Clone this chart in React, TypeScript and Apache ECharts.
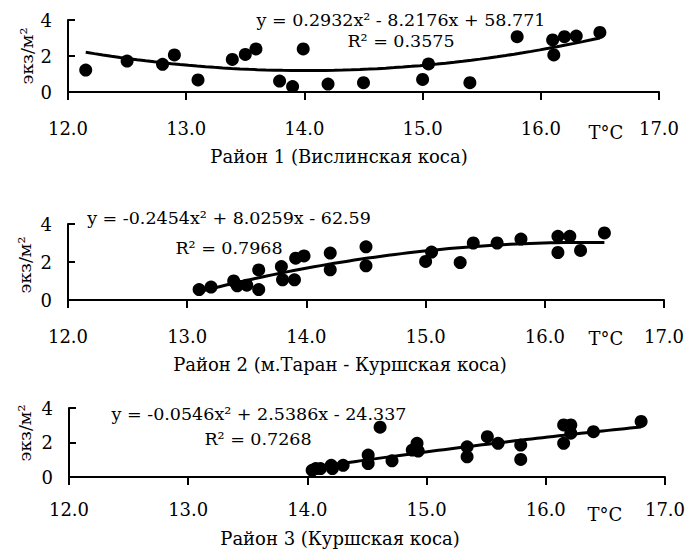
import React, { useEffect, useRef } from "react";
import * as echarts from "echarts";

// ---- Data ----
const xTicks = [12, 13, 14, 15, 16, 17];
const yTicks = [0, 2, 4];

// Район 1 (Вислинская коса)
const temp1 = [12.15, 12.5, 12.8, 12.9, 13.1, 13.39, 13.5, 13.59, 13.79, 13.9, 13.99, 14.2, 14.5, 15.0, 15.05, 15.4, 15.8, 16.1, 16.11, 16.2, 16.3, 16.5];
const dens1 = [1.22, 1.72, 1.54, 2.06, 0.67, 1.81, 2.09, 2.39, 0.61, 0.3, 2.39, 0.44, 0.52, 0.7, 1.56, 0.52, 3.07, 2.89, 2.06, 3.07, 3.11, 3.31];
const coef1 = [0.2932, -8.2176, 58.771];

// Район 2 (м.Таран - Куршская коса)
const temp2 = [13.1, 13.2, 13.39, 13.42, 13.5, 13.6, 13.6, 13.79, 13.8, 13.9, 13.91, 13.98, 14.2, 14.2, 14.5, 14.5, 15.0, 15.05, 15.29, 15.4, 15.6, 15.8, 16.11, 16.11, 16.21, 16.3, 16.5];
const dens2 = [0.55, 0.68, 1.0, 0.75, 0.78, 1.58, 0.55, 1.76, 1.06, 1.06, 2.2, 2.32, 2.47, 1.59, 2.8, 1.8, 2.03, 2.52, 1.97, 3.0, 3.0, 3.21, 3.35, 2.5, 3.35, 2.61, 3.53];
const coef2 = [-0.2454, 8.0259, -62.59];

// Район 3 (Куршская коса)
const temp3 = [14.04, 14.07, 14.11, 14.2, 14.21, 14.3, 14.51, 14.51, 14.61, 14.71, 14.88, 14.92, 14.93, 15.34, 15.34, 15.51, 15.6, 15.79, 15.79, 16.15, 16.15, 16.21, 16.21, 16.4, 16.8];
const dens3 = [0.39, 0.49, 0.49, 0.68, 0.49, 0.68, 1.27, 0.78, 2.89, 0.94, 1.56, 1.95, 1.5, 1.75, 1.17, 2.34, 1.95, 1.85, 1.02, 1.95, 3.02, 3.02, 2.54, 2.63, 3.22];
const coef3 = [-0.0546, 2.5386, -24.337];

const equations = [
  "y = 0.2932x² - 8.2176x + 58.771",
  "y = -0.2454x² + 8.0259x - 62.59",
  "y = -0.0546x² + 2.5386x - 24.337",
];
const rSquared = ["R² = 0.3575", "R² = 0.7968", "R² = 0.7268"];
const panelTitles = [
  "Район 1 (Вислинская коса)",
  "Район 2 (м.Таран - Куршская коса)",
  "Район 3 (Куршская коса)",
];
const yName = "экз/м²";
const xUnit = "T°C";

const FONT = "DejaVu Serif";

function trend(coef: number[], xs: number[]) {
  const lo = Math.min(...xs);
  const hi = Math.max(...xs);
  const pts: number[][] = [];
  const n = 60;
  for (let i = 0; i <= n; i++) {
    const x = lo + ((hi - lo) * i) / n;
    pts.push([x, coef[0] * x * x + coef[1] * x + coef[2]]);
  }
  return pts;
}

export default function App() {
  const ref = useRef<HTMLDivElement>(null);
  useEffect(() => {
    if (!ref.current) return;
    const chart = echarts.init(ref.current, undefined, { renderer: "svg" });
    const panels = [
      { t: temp1, d: dens1, c: coef1 },
      { t: temp2, d: dens2, c: coef2 },
      { t: temp3, d: dens3, c: coef3 },
    ];
    const grids = [
      { left: 68, top: 20, width: 591, height: 72 },
      { left: 68, top: 224, width: 596, height: 76 },
      { left: 69, top: 408, width: 596, height: 69 },
    ];
    const xMargins = [27, 27, 23];
    const layout = [
      { eq: [401, 20], r2: [401, 41], title: [339, 156], unit: [606, 132], yn: [27, 56] },
      { eq: [229, 218], r2: [229, 248], title: [340, 364], unit: [606, 338], yn: [25, 265] },
      { eq: [259, 414], r2: [258, 439], title: [340, 538], unit: [605, 514], yn: [25, 433] },
    ];
    const txt = (text: string, x: number, y: number, size: number, rotation = 0) => ({
      type: "text",
      x,
      y,
      rotation,
      style: {
        text,
        fill: "#000",
        font: `${size}px "${FONT}"`,
        textAlign: "center",
        textVerticalAlign: "middle",
        align: "center",
        verticalAlign: "middle",
      },
    });
    const graphic: any[] = [];
    layout.forEach((l, i) => {
      graphic.push(txt(equations[i], l.eq[0], l.eq[1], 17.5));
      graphic.push(txt(rSquared[i], l.r2[0], l.r2[1], 17.5));
      graphic.push(txt(panelTitles[i], l.title[0], l.title[1], 18));
      graphic.push(txt(xUnit, l.unit[0], l.unit[1], 18));
      graphic.push(txt(yName, l.yn[0], l.yn[1], 17.5, Math.PI / 2));
    });

    const option: any = {
      animation: false,
      backgroundColor: "#fff",
      grid: grids,
      xAxis: grids.map((_, i) => ({
        gridIndex: i,
        type: "value",
        min: xTicks[0],
        max: xTicks[xTicks.length - 1],
        interval: 1,
        axisLine: { show: true, onZero: false, lineStyle: { color: "#000", width: 2 } },
        axisTick: { show: true, inside: false, length: 8, lineStyle: { color: "#000", width: 2 } },
        axisLabel: {
          margin: xMargins[i],
          color: "#000",
          fontFamily: FONT,
          fontSize: 18,
          formatter: (v: number) => v.toFixed(1),
        },
        splitLine: { show: false },
      })),
      yAxis: grids.map((_, i) => ({
        gridIndex: i,
        type: "value",
        min: yTicks[0],
        max: yTicks[yTicks.length - 1],
        interval: 2,
        axisLine: { show: true, onZero: false, lineStyle: { color: "#000", width: 2 } },
        axisTick: { show: true, inside: true, length: 7, lineStyle: { color: "#000", width: 2 } },
        axisLabel: { margin: 16, color: "#000", fontFamily: FONT, fontSize: 18 },
        splitLine: { show: false },
      })),
      series: panels.flatMap((p, i) => [
        {
          type: "line",
          xAxisIndex: i,
          yAxisIndex: i,
          data: trend(p.c, p.t),
          showSymbol: false,
          symbol: "none",
          lineStyle: { color: "#000", width: 3 },
          z: 2,
        },
        {
          type: "scatter",
          xAxisIndex: i,
          yAxisIndex: i,
          data: p.t.map((x, k) => [x, p.d[k]]),
          symbol: "circle",
          symbolSize: 13,
          itemStyle: { color: "#000", opacity: 1 },
          z: 3,
        },
      ]),
      graphic,
    };
    chart.setOption(option);
    return () => chart.dispose();
  }, []);
  return (
    <div
      ref={ref}
      style={{ position: "fixed", left: 0, top: 0, width: 688, height: 560, background: "#fff" }}
    />
  );
}
